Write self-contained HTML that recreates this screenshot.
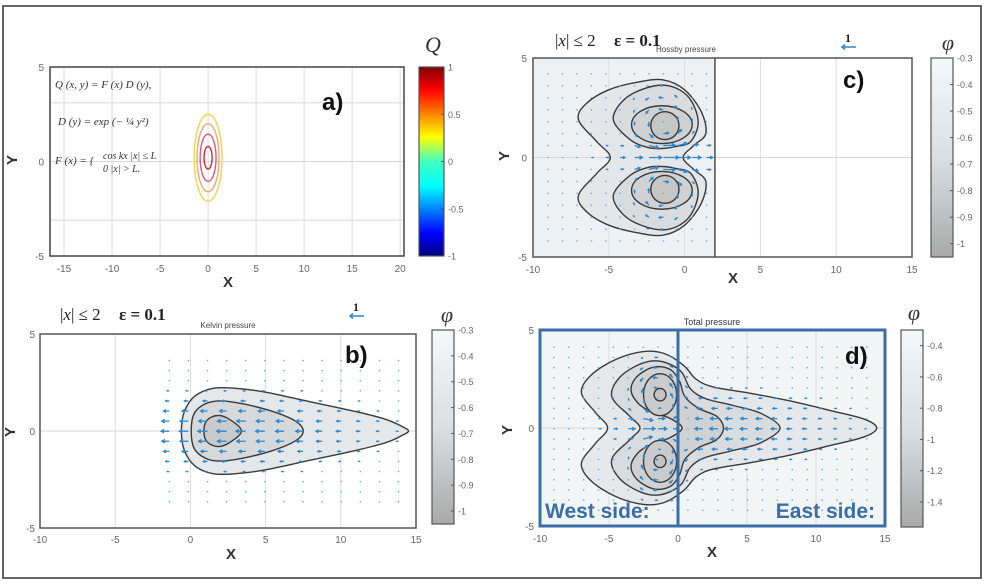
<!DOCTYPE html>
<html><head><meta charset="utf-8"><style>
html,body{margin:0;padding:0;background:#fff;}
svg{display:block;font-family:"Liberation Sans",sans-serif;}
</style></head><body>
<svg id="fig" width="986" height="584" viewBox="0 0 986 584" xmlns="http://www.w3.org/2000/svg">
<defs>
<linearGradient id="jet" x1="0" y1="0" x2="0" y2="1">
<stop offset="0" stop-color="#7f0000"/><stop offset="0.12" stop-color="#ff0000"/><stop offset="0.37" stop-color="#ffff00"/><stop offset="0.5" stop-color="#40ffc0"/><stop offset="0.63" stop-color="#00ffff"/><stop offset="0.88" stop-color="#0000ff"/><stop offset="1" stop-color="#00007f"/>
</linearGradient>
<linearGradient id="grey" x1="0" y1="0" x2="0" y2="1">
<stop offset="0" stop-color="#f5f7f8"/><stop offset="0.5" stop-color="#dcdfe1"/><stop offset="1" stop-color="#a9a9a9"/>
</linearGradient>
</defs>
<rect x="3" y="6" width="978" height="572" fill="none" stroke="#333" stroke-width="1.5"/>
<g id="root"></g>
</svg>
<script>
// ---- data ----
const xTicksA = [-15,-10,-5,0,5,10,15,20];
const xTicksBCD = [-10,-5,0,5,10,15];
const yTicks = [5,0,-5];
const cbarQLabels = ['1','0.5','0','-0.5','-1'];
const cbarQValues = [1,0.5,0,-0.5,-1];
const cbarBValues = [-0.3,-0.4,-0.5,-0.6,-0.7,-0.8,-0.9,-1];
const cbarCValues = [-0.3,-0.4,-0.5,-0.6,-0.7,-0.8,-0.9,-1];
const cbarDValues = [-0.4,-0.6,-0.8,-1,-1.2,-1.4];
const qRingsRx = [1.45,1.15,0.83,0.42];
const qRingsRy = [2.3,1.8,1.25,0.6];
const qRingColors = ['#f2d34a','#f0a868','#e2567a','#d42a3a'];
const kelvinOuter = [[-0.6,0],[-0.4,1.0],[0.3,1.8],[1.5,2.2],[3,2.2],[5,2.0],[8,1.5],[11,1.0],[13,0.6],[14.1,0.22],[14.5,0]];
const kelvinMid = [[0.05,0],[0.25,0.9],[1,1.4],[2,1.55],[3.5,1.4],[5.5,1.0],[7,0.5],[7.5,0]];
const kelvinInner = [[0.9,0],[1.1,0.55],[1.8,0.8],[2.6,0.6],[3.4,0]];
const rossbyOuter = [[-4.9,0],[-5.8,0.8],[-7,1.9],[-6.5,2.7],[-5,3.4],[-3,3.8],[-1.4,3.9],[0,3.4],[1.1,2.3],[1.4,1.2],[0.6,0.6],[-0.1,0]];
const rossbyLoop2 = [[-2.4,0.5],[-3.6,0.9],[-4.7,1.9],[-4,2.9],[-2.5,3.5],[-1,3.6],[0.3,3.0],[0.9,1.8],[0.4,0.8],[-0.6,0.55],[-1.5,0.45]];
const rossbyEyeX = [-1.5,-1.3];
const rossbyEyeY = [1.65,1.6];
const rossbyEyeRx = [2.0,0.93];
const rossbyEyeRy = [0.95,0.7];
const totalOuter = [[-5.1,0],[-6,0.8],[-7,1.8],[-6.3,2.7],[-4.5,3.5],[-2.5,3.9],[-1,3.8],[0.4,3.2],[1.3,2.5],[2.5,2.1],[5,1.8],[8,1.4],[11,0.9],[13.5,0.45],[14.4,0]];
const totalMid = [[-2.75,0],[-3.5,0.6],[-4.8,1.6],[-4.2,2.6],[-2.6,3.3],[-1.2,3.4],[0.2,2.9],[0.9,2.0],[2,1.5],[4,1.15],[6,0.75],[7.4,0]];
const totalThird = [[3.3,0],[2.8,0.6],[1.5,1.0],[0.5,1.6],[0.1,2.4],[-0.6,3.0],[-1.8,3.1],[-3,2.6],[-3.4,1.9],[-2.8,1.2],[-1.8,0.8],[-0.6,0.5],[0.3,0]];
const totalEyeX = [-1.3,-1.3];
const totalEyeY = [1.7,1.7];
const totalEyeRx = [1.2,0.43];
const totalEyeRy = [1.07,0.32];

const S='http://www.w3.org/2000/svg';
const root=document.getElementById('root');
function mk(tag,attrs,parent){const e=document.createElementNS(S,tag);for(const k in attrs)e.setAttribute(k,attrs[k]);(parent||root).appendChild(e);return e;}
function txt(x,y,s,attrs,parent){const t=mk('text',Object.assign({x:x,y:y},attrs),parent);t.textContent=s;return t;}

function axes(x0,x1,xmin,xmax,y0,y1,ymin,ymax){
  return {sx:v=>x0+(v-xmin)/(xmax-xmin)*(x1-x0), sy:v=>y1-(v-ymin)/(ymax-ymin)*(y1-y0), x0,x1,y0,y1};
}
function smoothClosed(P){
  const n=P.length;let d='M'+P[0][0].toFixed(1)+','+P[0][1].toFixed(1);
  for(let i=0;i<n;i++){const p0=P[(i-1+n)%n],p1=P[i],p2=P[(i+1)%n],p3=P[(i+2)%n];
    const c1=[p1[0]+(p2[0]-p0[0])/6,p1[1]+(p2[1]-p0[1])/6],c2=[p2[0]-(p3[0]-p1[0])/6,p2[1]-(p3[1]-p1[1])/6];
    d+='C'+c1[0].toFixed(1)+','+c1[1].toFixed(1)+' '+c2[0].toFixed(1)+','+c2[1].toFixed(1)+' '+p2[0].toFixed(1)+','+p2[1].toFixed(1);}
  return d+'Z';
}
function halfToFull(h){const m=h.slice(1,-1).reverse().map(p=>[p[0],-p[1]]);return h.concat(m);}
function contour(ax,pts,fill,g,name){
  const P=pts.map(p=>[ax.sx(p[0]),ax.sy(p[1])]);
  const e=mk('path',{d:smoothClosed(P),fill:fill,stroke:'#3a3a3a','stroke-width':1.4},g);
  
  
}
function ellipse(ax,cx,cy,rx,ry,fill,g,name,stroke,sw){
  const e=mk('ellipse',{cx:ax.sx(cx),cy:ax.sy(cy),rx:Math.abs(ax.sx(rx)-ax.sx(0)),ry:Math.abs(ax.sy(ry)-ax.sy(0)),fill:fill,stroke:stroke||'#3a3a3a','stroke-width':sw||1.4},g);
  
  
}
function frame(ax,name){
  const g=mk('g',{});
  
  
  mk('rect',{x:ax.x0,y:ax.y0,width:ax.x1-ax.x0,height:ax.y1-ax.y0,fill:'#fff'},g);
  return g;
}
function grid(ax,g,xt,gy){
  xt.forEach(v=>{const X=ax.sx(v);if(X>ax.x0+2&&X<ax.x1-2){const l=mk('line',{x1:X,x2:X,y1:ax.y0,y2:ax.y1,stroke:'#dcdcdc','stroke-width':1},g);}});
  gy.forEach(v=>{const Y=ax.sy(v);const l=mk('line',{x1:ax.x0,x2:ax.x1,y1:Y,y2:Y,stroke:'#d6d6d6','stroke-width':1},g);});
}
function axisText(ax,g,xt,xlabY,ylabX,xTitle,yTitle){
  xt.forEach(v=>{const t=txt(ax.sx(v),xlabY,String(v),{'font-size':10,fill:'#666','text-anchor':'middle'},g);});
  yTicks.forEach(v=>{const t=txt(ylabX,ax.sy(v)+4,String(v),{'font-size':10,fill:'#666','text-anchor':'end'},g);});
  const xt1=txt(xTitle[0],xTitle[1],'X',{'font-size':15,'font-weight':'bold',fill:'#333','text-anchor':'middle'},g);
  
  const yt=txt(yTitle[0],yTitle[1],'Y',{'font-size':15,'font-weight':'bold',fill:'#333','text-anchor':'middle',transform:'rotate(-90 '+yTitle[0]+' '+yTitle[1]+')'},g);
  
}
function box(ax,g,stroke,sw){const r=mk('rect',{x:ax.x0,y:ax.y0,width:ax.x1-ax.x0,height:ax.y1-ax.y0,fill:'none',stroke:stroke,'stroke-width':sw},g);}
function cbar(x,y0,y1,grad,vals,labels,vTop,vBot,name,g,symX,symY,sym){
  const cg=mk('g',{});
  
  
  const w=name==='colorbar-q'?25:22;
  mk('rect',{x:x,y:y0,width:w,height:y1-y0,fill:'url(#'+grad+')',stroke:'#555','stroke-width':1.2},cg);
  vals.forEach((v,i)=>{const Y=y0+(v-vTop)/(vBot-vTop)*(y1-y0);
    mk('line',{x1:x+w-3,x2:x+w,y1:Y,y2:Y,stroke:'#555'},cg);
    const t=txt(x+w+4,Y+3.5,labels?labels[i]:String(v),{'font-size':9,fill:'#666'},cg);
    });
  const s=txt(symX,symY,sym,{'font-size':22,'font-style':'italic','font-family':'"Liberation Serif",serif',fill:'#333','text-anchor':'middle'},cg);
  
}
function arrow(g,X,Y,dx,dy){
  const L=Math.hypot(dx,dy);
  if(L<1.6){const d=mk('rect',{x:X-0.7,y:Y-0.7,width:1.4,height:1.4,fill:'#6aa8d8'},g);return;}
  const ux=dx/L,uy=dy/L,hx=X+dx,hy=Y+dy,h=Math.min(3,L*0.4);
  const p=mk('path',{d:`M${X},${Y}L${hx},${hy}M${hx-ux*h-uy*h*0.6},${hy-uy*h+ux*h*0.6}L${hx},${hy}L${hx-ux*h+uy*h*0.6},${hy-uy*h-ux*h*0.6}`,stroke:'#2f87cc','stroke-width':1.3,fill:'none'},g);
  
}
function kelvinV(x,y){if(x<-1.6)return[0,0];const a=Math.exp(-y*y/3)*Math.exp(-Math.pow((x-2.5)/9,2));return[-a,0];}
function rossbyV(x,y){if(x>1.8)return[0,0];let u=0,v=0;
  [[-1.5,1.7,1],[-1.5,-1.7,-1]].forEach(([cx,cy,s])=>{const rx=x-cx,ry=y-cy,r2=rx*rx+ry*ry,m=Math.exp(-r2/2.2)*0.9;u+=-ry*m*s;v+=rx*m*s;});
  u+=Math.exp(-y*y/0.8)*Math.exp(-Math.pow((x+1)/4,2))*1.1;return[u,v];}
function quiver(ax,g,fn,xs,ys,sc){
  for(let x=xs[0];x<=xs[1]+1e-6;x+=xs[2])for(let y=ys[0];y<=ys[1]+1e-6;y+=ys[2]){
    const [u,v]=fn(x,y);const X=ax.sx(x),Y=ax.sy(y);arrow(g,X,Y,u*sc,-v*sc);}
}
function epsText(x,y,g){
  const t=mk('text',{x:x,y:y,'font-size':17,'font-family':'"Liberation Serif",serif',fill:'#222'},g);
  
  t.innerHTML='|<tspan font-style="italic">x</tspan>| ≤ 2 <tspan dx="14" font-weight="bold">ε = 0.1</tspan>';
}
function scaleArrow(x,y,g){
  const a=mk('g',{},g);
  
  
  txt(x+6,y-5,'1',{'font-size':12,'font-weight':'bold','font-family':'"Liberation Serif",serif',fill:'#222','text-anchor':'middle'},a);
  mk('path',{d:`M${x+14},${y}L${x},${y}M${x+3},${y-2.5}L${x},${y}L${x+3},${y+2.5}`,stroke:'#2f87cc','stroke-width':1.5,fill:'none'},a);
}
function panelLabel(x,y,s,g){const t=txt(x,y,s,{'font-size':24,'font-weight':'bold',fill:'#111'},g);}

// ---------- Panel a ----------
(function(){
  const ax=axes(50,404,-16.46,20.4,67,256,-5,5);
  const g=frame(ax,'panel-a-source');
  grid(ax,g,xTicksA,[0,3.1,-3.1]);
  qRingsRx.forEach((rx,i)=>{ellipse(ax,0,0.2,rx,qRingsRy[i],'none',g,'source-contour',qRingColors[i],1.4);});
  box(ax,g,'#444',1.5);
  axisText(ax,g,xTicksA,272,44,[228,287],[17,160]);
  const f=mk('g',{'font-family':'"Liberation Serif",serif','font-style':'italic','font-size':11,fill:'#333'},g);
  
  
  txt(55,88,'Q (x, y) = F (x) D (y),',{},f);
  txt(58,125,'D (y) = exp (− ¼ y²)',{},f);
  txt(55,164,'F (x) = {',{},f);
  txt(103,159,'cos kx    |x| ≤ L',{'font-size':10},f);
  txt(103,172,'0        |x| > L.',{'font-size':10},f);
  panelLabel(322,110,'a)',g);
  cbar(419,67,256,'jet',cbarQValues,cbarQLabels,1,-1,'colorbar-q',g,433,52,'Q');
})();

// ---------- Panel c ----------
(function(){
  const ax=axes(533,912,-10,15,58,257,-5,5);
  const g=frame(ax,'panel-c-rossby');
  const bg=mk('rect',{x:ax.x0,y:ax.y0,width:ax.sx(2)-ax.x0,height:ax.y1-ax.y0,fill:'#edf1f3'},g);
  
  grid(ax,g,xTicksBCD,[0]);
  contour(ax,halfToFull(rossbyOuter),'#e4e7ea',g,'rossby-contour-outer');
  contour(ax,rossbyLoop2,'#d9dcdf',g,'rossby-contour-2-north');
  contour(ax,rossbyLoop2.map(p=>[p[0],-p[1]]),'#d9dcdf',g,'rossby-contour-2-south');
  rossbyEyeX.forEach((cx,i)=>{const f=i?'#c6c6c6':'#d0d1d3';
    ellipse(ax,cx,rossbyEyeY[i],rossbyEyeRx[i],rossbyEyeRy[i],f,g,'rossby-eye-north');
    ellipse(ax,cx,-rossbyEyeY[i],rossbyEyeRx[i],rossbyEyeRy[i],f,g,'rossby-eye-south');});
  quiver(ax,g,rossbyV,[-9,1.6,0.95],[-4.2,4.2,0.6],8);
  const vl=mk('line',{x1:ax.sx(2),x2:ax.sx(2),y1:ax.y0,y2:ax.y1,stroke:'#555','stroke-width':1.6},g);
  
  box(ax,g,'#555',1.5);
  axisText(ax,g,xTicksBCD,273,527,[733,283],[509,156]);
  const t=txt(686,52,'Hossby pressure',{'font-size':8,fill:'#444','text-anchor':'middle'},g);
  
  epsText(555,46,g);scaleArrow(842,47,g);
  panelLabel(843,88,'c)',g);
  cbar(931,58,257,'grey',cbarCValues,null,-0.3,-1.05,'colorbar-phi-c',g,948,50,'φ');
})();

// ---------- Panel b ----------
(function(){
  const ax=axes(40,416,-10,15,334,528,-5,5);
  const g=frame(ax,'panel-b-kelvin');
  grid(ax,g,xTicksBCD,[0]);
  contour(ax,halfToFull(kelvinOuter),'#e5e8eb',g,'kelvin-contour-outer');
  contour(ax,halfToFull(kelvinMid),'#d6d9dc',g,'kelvin-contour-mid');
  contour(ax,halfToFull(kelvinInner),'#c9cacc',g,'kelvin-contour-inner');
  quiver(ax,g,kelvinV,[-1.4,14,1.27],[-3.65,3.65,0.52],10);
  box(ax,g,'#555',1.5);
  axisText(ax,g,xTicksBCD,543,35,[231,559],[15,432]);
  const t=txt(228,328,'Kelvin pressure',{'font-size':8,fill:'#444','text-anchor':'middle'},g);
  
  epsText(60,320,g);scaleArrow(350,316,g);
  panelLabel(345,363,'b)',g);
  cbar(432,330,524,'grey',cbarBValues,null,-0.3,-1.05,'colorbar-phi-b',g,447,322,'φ');
})();

// ---------- Panel d ----------
(function(){
  const ax=axes(540,885,-10,15,330,526,-5,5);
  const g=frame(ax,'panel-d-total');
  mk('rect',{x:ax.x0,y:ax.y0,width:ax.x1-ax.x0,height:ax.y1-ax.y0,fill:'#f2f5f6'},g);
  grid(ax,g,xTicksBCD,[0]);
  contour(ax,halfToFull(totalOuter),'#e5e8eb',g,'total-contour-outer');
  contour(ax,halfToFull(totalMid),'#d9dcdf',g,'total-contour-2');
  contour(ax,halfToFull(totalThird),'#cfd1d3',g,'total-contour-3');
  totalEyeX.forEach((cx,i)=>{const f=i?'#c4c4c4':'#cacbcd';
    ellipse(ax,cx,totalEyeY[i],totalEyeRx[i],totalEyeRy[i],f,g,'total-eye-north');
    ellipse(ax,cx,-totalEyeY[i],totalEyeRx[i],totalEyeRy[i],f,g,'total-eye-south');});
  quiver(ax,g,(x,y)=>{const a=kelvinV(x,y),b=rossbyV(x,y);return[a[0]+b[0],a[1]+b[1]];},[-9,14.5,1.08],[-4.2,4.2,0.52],8);
  const r=mk('rect',{x:ax.x0,y:ax.y0,width:ax.x1-ax.x0,height:ax.y1-ax.y0,fill:'none',stroke:'#3b6ea5','stroke-width':3},g);
  
  const vl=mk('line',{x1:ax.sx(0),x2:ax.sx(0),y1:ax.y0,y2:ax.y1,stroke:'#3b6ea5','stroke-width':3},g);
  
  axisText(ax,g,xTicksBCD,542,534,[712,557],[512,430]);
  const t=txt(712,325,'Total pressure',{'font-size':9,fill:'#333','text-anchor':'middle'},g);
  
  panelLabel(845,364,'d)',g);
  const w=txt(545,518,'West side:',{'font-size':21,'font-weight':'bold',fill:'#3b6ea5'},g);
  
  const e=txt(875,518,'East side:',{'font-size':21,'font-weight':'bold',fill:'#3b6ea5','text-anchor':'end'},g);
  
  cbar(901,330,527,'grey',cbarDValues,null,-0.3,-1.56,'colorbar-phi-d',g,914,320,'φ');
})();
</script>
</body></html>
